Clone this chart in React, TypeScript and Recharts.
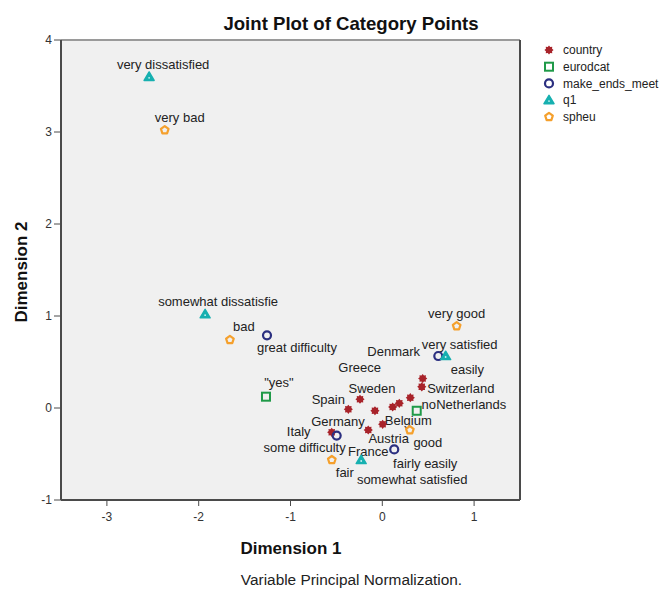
import React from 'react';
import { ScatterChart, Scatter, XAxis, YAxis, ReferenceArea, ReferenceLine } from 'recharts';

// ---- data ----
const countryNames = ['Denmark', 'Switzerland', 'Netherlands', 'Belgium', 'Greece', 'Germany', 'Sweden', 'Spain', 'Austria', 'France', 'Italy'];
const countryX = [0.44, 0.43, 0.305, 0.185, 0.113, -0.08, -0.243, -0.37, 0.004, -0.153, -0.551];
const countryY = [0.32, 0.23, 0.112, 0.051, 0.011, -0.03, 0.095, -0.014, -0.177, -0.239, -0.264];

const eurodcatNames = ['"yes"', 'no'];
const eurodcatX = [-1.267, 0.375];
const eurodcatY = [0.123, -0.03];

const makeEndsNames = ['great difficulty', 'some difficulty', 'fairly easily', 'easily'];
const makeEndsX = [-1.256, -0.497, 0.13, 0.61];
const makeEndsY = [0.79, -0.3, -0.45, 0.565];

const q1Names = ['very dissatisfied', 'somewhat dissatisfie', 'somewhat satisfied', 'very satisfied'];
const q1X = [-2.54, -1.93, -0.23, 0.69];
const q1Y = [3.6, 1.02, -0.565, 0.565];

const spheuNames = ['very bad', 'bad', 'fair', 'good', 'very good'];
const spheuX = [-2.37, -1.66, -0.55, 0.3, 0.81];
const spheuY = [3.02, 0.74, -0.565, -0.24, 0.89];

const xTicks = [-3, -2, -1, 0, 1];
const yTicks = [-1, 0, 1, 2, 3, 4];
const legendNames = ['country', 'eurodcat', 'make_ends_meet', 'q1', 'spheu'];

// ---- label placement (pixel offsets of label centre from marker) ----
const labelOffset: Record<string, [number, number]> = {
  Denmark: [-29, -27], Switzerland: [39, 1], Netherlands: [61, 7], Belgium: [9, 17], Greece: [-33, -40],
  Germany: [-37, 11], Sweden: [12, -11], Spain: [-20, -10], Austria: [6, 14], France: [0, 21], Italy: [-33, -1],
  '"yes"': [13, -14], no: [12, -6],
  'great difficulty': [30, 12], 'some difficulty': [-32, 12], 'fairly easily': [31, 14], easily: [29, 13],
  'very dissatisfied': [14, -12], 'somewhat dissatisfie': [13, -13], 'somewhat satisfied': [51, 19], 'very satisfied': [14, -12],
  'very bad': [15, -13], bad: [14, -14], fair: [13, 12], good: [18, 12], 'very good': [0, -13],
};

const build = (names: string[], xs: number[], ys: number[]) => names.map((n, i) => ({ name: n, x: xs[i], y: ys[i] }));
const countryData = build(countryNames, countryX, countryY);
const eurodcatData = build(eurodcatNames, eurodcatX, eurodcatY);
const makeEndsData = build(makeEndsNames, makeEndsX, makeEndsY);
const q1Data = build(q1Names, q1X, q1Y);
const spheuData = build(spheuNames, spheuX, spheuY);

const COLORS = {
  country: '#a8232a',
  eurodcat: '#1f9a48',
  make_ends_meet: '#2b2f80',
  q1: '#17b0b0',
  spheu: '#f5a02c',
};

type Kind = 'country' | 'eurodcat' | 'make_ends_meet' | 'q1' | 'spheu';

function Marker({ kind, cx, cy }: { kind: Kind; cx: number; cy: number }) {
  const c = COLORS[kind];
  if (kind === 'country') {
    const pts: string[] = [];
    for (let i = 0; i < 16; i++) {
      const r = i % 2 === 0 ? 4.6 : 3.3;
      const a = (Math.PI * 2 * i) / 16;
      pts.push(`${cx + r * Math.cos(a)},${cy + r * Math.sin(a)}`);
    }
    return <polygon points={pts.join(' ')} fill={c} stroke="none" />;
  }
  if (kind === 'eurodcat') {
    return <rect x={cx - 4} y={cy - 4} width={8} height={8} fill="none" stroke={c} strokeWidth={2} />;
  }
  if (kind === 'make_ends_meet') {
    return <circle cx={cx} cy={cy} r={4} fill="none" stroke={c} strokeWidth={2.2} />;
  }
  if (kind === 'q1') {
    return (
      <g>
        <polygon points={`${cx},${cy - 4.8} ${cx + 5},${cy + 3.6} ${cx - 5},${cy + 3.6}`} fill={c} stroke={c} strokeWidth={1.5} strokeLinejoin="round" />
        <circle cx={cx} cy={cy + 1} r={0.9} fill="#c8f0f0" />
      </g>
    );
  }
  const pts: string[] = [];
  for (let i = 0; i < 5; i++) {
    const a = -Math.PI / 2 + (Math.PI * 2 * i) / 5;
    pts.push(`${cx + 4 * Math.cos(a)},${cy + 4 * Math.sin(a)}`);
  }
  return <polygon points={pts.join(' ')} fill="none" stroke={c} strokeWidth={2.2} strokeLinejoin="round" />;
}

const makeShape = (kind: Kind) => (props: any) => {
  const { cx, cy, payload } = props;
  if (cx == null || cy == null) return <g />;
  const off = labelOffset[payload.name] || [0, -12];
  return (
    <g>
      <Marker kind={kind} cx={cx} cy={cy} />
      <text x={cx + off[0]} y={cy + off[1]} dy="0.36em" textAnchor="middle" fontSize={13} fill="#222">
        {payload.name}
      </text>
    </g>
  );
};

const W = 659;
const H = 581;
const FONT = '"Liberation Sans", Arial, sans-serif';

export default function App() {
  return (
    <div style={{ position: 'relative', width: W, height: H, fontFamily: FONT }}>
      <ScatterChart width={W} height={H} margin={{ top: 32, right: 147, bottom: 59, left: 23 }} style={{ fontFamily: FONT }}>
        <XAxis
          type="number"
          dataKey="x"
          domain={[-3.5, 1.5]}
          ticks={xTicks}
          allowDataOverflow
          height={30}
          tickSize={6}
          tickMargin={6}
          tick={{ fontSize: 12, fill: '#333' }}
          axisLine={{ stroke: '#4a4a4a', strokeWidth: 2 }}
          tickLine={{ stroke: '#4a4a4a' }}
        />
        <YAxis
          type="number"
          dataKey="y"
          domain={[-1, 4]}
          ticks={yTicks}
          allowDataOverflow
          width={30}
          tickSize={7}
          tickMargin={2}
          tick={{ fontSize: 12, fill: '#333' }}
          axisLine={{ stroke: '#4a4a4a', strokeWidth: 2 }}
          tickLine={{ stroke: '#4a4a4a' }}
        />
        <ReferenceArea x1={-3.5} x2={1.5} y1={-1} y2={4} fill="#f0f0f0" fillOpacity={1} stroke="none" />
        <ReferenceLine y={4} stroke="#9a9a9a" strokeWidth={2} />
        <ReferenceLine x={1.5} stroke="#4a4a4a" strokeWidth={2} />
        <Scatter name="country" data={countryData} shape={makeShape('country')} isAnimationActive={false} />
        <Scatter name="eurodcat" data={eurodcatData} shape={makeShape('eurodcat')} isAnimationActive={false} />
        <Scatter name="make_ends_meet" data={makeEndsData} shape={makeShape('make_ends_meet')} isAnimationActive={false} />
        <Scatter name="q1" data={q1Data} shape={makeShape('q1')} isAnimationActive={false} />
        <Scatter name="spheu" data={spheuData} shape={makeShape('spheu')} isAnimationActive={false} />
      </ScatterChart>
      <svg width={W} height={H} style={{ position: 'absolute', left: 0, top: 0, pointerEvents: 'none', fontFamily: FONT }}>
        <text x={343} y={22} textAnchor="middle" fontSize={18.6} fontWeight="bold" fill="#111">
          Joint Plot of Category Points
        </text>
        <text x={283} y={546} textAnchor="middle" fontSize={17} fontWeight="bold" fill="#111">
          Dimension 1
        </text>
        <text x={13} y={264} textAnchor="middle" dy="0.36em" fontSize={17} fontWeight="bold" fill="#111" transform="rotate(-90 13 264)">
          Dimension 2
        </text>
        <text x={343.5} y={577} textAnchor="middle" fontSize={15.4} fill="#222">
          Variable Principal Normalization.
        </text>
        {legendNames.map((n, i) => (
          <g key={n}>
            <Marker kind={n as Kind} cx={541} cy={42 + i * 16.7} />
            <text x={555} y={42 + i * 16.7} dy="0.36em" fontSize={12} fill="#222">
              {n}
            </text>
          </g>
        ))}
      </svg>
    </div>
  );
}
